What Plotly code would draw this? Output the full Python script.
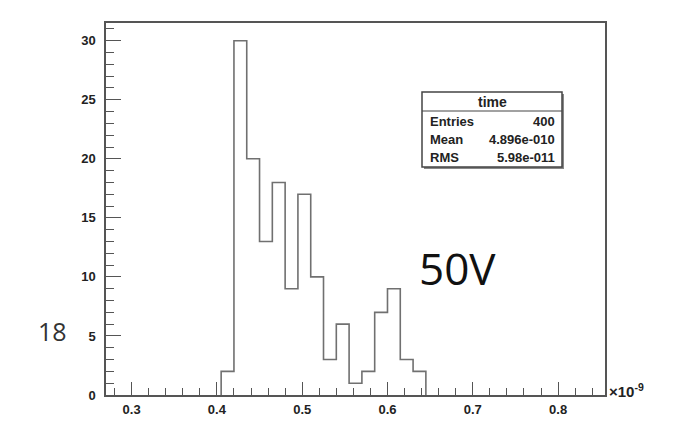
import plotly.graph_objects as go

# Histogram data (time, units of 1e-9 s)
bin_edges = [0.405, 0.42, 0.435, 0.45, 0.465, 0.48, 0.495, 0.51, 0.525,
             0.54, 0.555, 0.57, 0.585, 0.60, 0.615, 0.63, 0.645]
counts = [2, 30, 20, 13, 18, 9, 17, 10, 3, 6, 1, 2, 7, 9, 3, 2]

x_ticks = [0.3, 0.4, 0.5, 0.6, 0.7, 0.8]
y_ticks = [0, 5, 10, 15, 20, 25, 30]

stats_title = "time"
stats_labels = ["Entries", "Mean", "RMS"]
stats_values = ["400", "4.896e-010", "5.98e-011"]

# Step outline built from edges and counts
xs = [bin_edges[0]] + bin_edges[:-1] + [bin_edges[-1], bin_edges[-1]]
ys = [0] + counts + [counts[-1], 0]

axis_col = "#555555"
hist_col = "#707070"

# page has an 8px body margin, so the figure is 8px smaller and offsets shifted
OFF = 8
W, H = 692 - OFF, 433 - OFF
L, R, T, B = 106 - OFF, 87, 23 - OFF, 38

fig = go.Figure()
fig.add_trace(go.Scatter(x=xs, y=ys, mode="lines", line_shape="hv",
                         line=dict(color=hist_col, width=1.6),
                         hoverinfo="skip", showlegend=False))

tickfont = dict(family="Liberation Sans, Arial", size=13, color="#222222", weight="bold")

fig.update_layout(
    width=W, height=H,
    margin=dict(l=L, r=R, t=T, b=B),
    paper_bgcolor="white", plot_bgcolor="white",
    showlegend=False,
    xaxis=dict(range=[0.27, 0.855], tickvals=x_ticks,
               ticktext=[f"{v:.1f}" for v in x_ticks],
               ticks="inside", ticklen=13, tickwidth=1.2, tickcolor=axis_col,
               minor=dict(ticks="inside", dtick=0.02, tick0=0.0, ticklen=7,
                          tickwidth=1, tickcolor=axis_col, showgrid=False),
               showline=True, mirror=True, linecolor=axis_col, linewidth=1.5,
               showgrid=False, zeroline=False, tickfont=tickfont,
               ticklabelstandoff=2),
    yaxis=dict(range=[0, 31.5], tickvals=y_ticks,
               ticks="inside", ticklen=15, tickwidth=1.2, tickcolor=axis_col,
               minor=dict(ticks="inside", dtick=1, tick0=0, ticklen=8,
                          tickwidth=1, tickcolor=axis_col, showgrid=False),
               showline=True, mirror=True, linecolor=axis_col, linewidth=1.5,
               showgrid=False, zeroline=False, tickfont=tickfont,
               ticklabelstandoff=6),
)

# x10^-9 exponent label
fig.add_annotation(xref="paper", yref="paper", x=1.0, y=0.0, xanchor="left",
                   yanchor="middle", xshift=2, yshift=5,
                   text="×10<sup>-9</sup>", showarrow=False,
                   font=dict(family="Liberation Sans, Arial", size=15,
                             color="#222222", weight="bold"))

# Stats box (positions given in page pixels, converted to paper coords)
pw, ph = W - L - R, H - T - B
def px(xp):
    return (xp - OFF - L) / pw
def py(yp):
    return (H - B - (yp - OFF)) / ph

# shadow
fig.add_shape(type="rect", xref="paper", yref="paper",
              x0=px(424), x1=px(564), y0=py(169), y1=py(94),
              line=dict(width=0), fillcolor="#888888")
fig.add_shape(type="rect", xref="paper", yref="paper",
              x0=px(422), x1=px(562), y0=py(167), y1=py(92),
              line=dict(color="#444444", width=1.5), fillcolor="white")
fig.add_shape(type="line", xref="paper", yref="paper",
              x0=px(422), x1=px(562), y0=py(111), y1=py(111),
              line=dict(color="#444444", width=1.2))
sfont = dict(family="Liberation Sans, Arial", size=13, color="#222222", weight="bold")
fig.add_annotation(xref="paper", yref="paper", x=px(492), y=py(101.5),
                   text=stats_title, showarrow=False, xanchor="center",
                   yanchor="middle", font=dict(family="Liberation Sans, Arial",
                                               size=14, color="#222222", weight="bold"))
row_y = [121.5, 139.5, 157.5]
for lab, val, yy in zip(stats_labels, stats_values, row_y):
    fig.add_annotation(xref="paper", yref="paper", x=px(428), y=py(yy),
                       text=lab, showarrow=False, xanchor="left",
                       yanchor="middle", font=sfont)
    fig.add_annotation(xref="paper", yref="paper", x=px(557), y=py(yy),
                       text=val, showarrow=False, xanchor="right",
                       yanchor="middle", font=sfont)

# Slide labels
fig.add_annotation(xref="paper", yref="paper", x=px(457), y=py(268),
                   text="50V", showarrow=False, xanchor="center", yanchor="middle",
                   font=dict(family="Open Sans, Noto Sans", size=44, color="#111111"))
fig.add_annotation(xref="paper", yref="paper", x=px(52), y=py(331),
                   text="18", showarrow=False, xanchor="center", yanchor="middle",
                   font=dict(family="Open Sans, Noto Sans", size=25, color="#333333"))

fig.write_html("out.html")
